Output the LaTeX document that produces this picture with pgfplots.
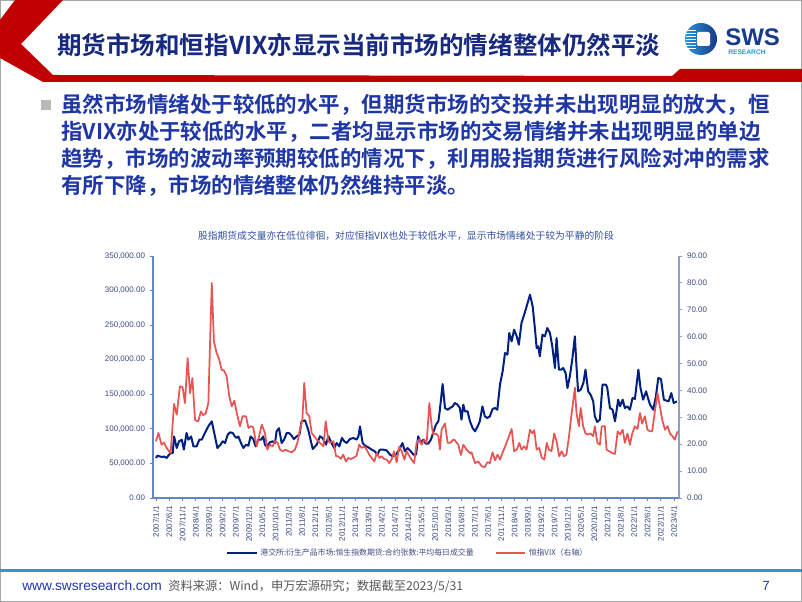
\documentclass[border=0pt]{standalone}
\usepackage{pgfplots}
\pgfplotsset{compat=1.18}
\usepackage{fontspec}
\setmainfont{Liberation Sans}
\newfontfamily\cjk{Noto Sans CJK SC}[BoldFont={Noto Sans CJK SC Bold}]
\definecolor{titleblue}{RGB}{24,42,128}
\definecolor{textblue}{RGB}{30,55,165}
\definecolor{lineblue}{RGB}{0,32,128}
\definecolor{linered}{RGB}{232,84,84}
\definecolor{axisblue}{RGB}{100,130,205}
\definecolor{axisgrey}{RGB}{140,160,195}
\definecolor{ticklab}{RGB}{60,75,130}
\definecolor{redbar}{RGB}{192,0,0}
\definecolor{footc}{RGB}{50,150,205}
\definecolor{charttitle}{RGB}{50,80,160}
\definecolor{logodark}{RGB}{22,58,140}
\definecolor{logolight}{RGB}{40,150,220}
\begin{document}
\begin{tikzpicture}[x=0.75pt,y=0.75pt]
\fill[white] (0,0) rectangle (802,602);
\draw[gray!70, line width=0.75pt] (0.5,0.5) rectangle (801.5,601.5);
% header banner
\fill[redbar] (15,602) -- (63,602) -- (21,558) -- (53,527) -- (672,526) -- (680,533) -- (802,533) -- (802,520) -- (43,520) -- (0,544) -- (0,582) -- cycle;
\node[anchor=west, inner sep=0, text=titleblue, font=\cjk\bfseries\fontsize{18.4}{18.4}\selectfont] at (57,557) {期货市场和恒指VIX亦显示当前市场的情绪整体仍然平淡};
% logo
\shade[left color=logolight, right color=logodark] (701,563) circle (16);
\fill[white, rounded corners=1.5] (697,556) rectangle (710,570);
\foreach \yy in {554,557,560,563,566,569,572} {\draw[white, line width=0.6pt] (686,\yy) -- (696,\yy);}
\node[anchor=base west, inner sep=0, text=logodark, font=\bfseries\fontsize{18}{18}\selectfont] at (725,556) {SWS};
\node[anchor=base west, inner sep=0, text=logolight, font=\bfseries\fontsize{5}{5}\selectfont] at (728,547) {RESEARCH};
% bullet
\fill[gray!55] (41,492) rectangle (51,502);
\begin{scope}[every node/.style={anchor=west, inner sep=0, text=textblue, font=\cjk\bfseries\fontsize{16.1}{16.1}\selectfont}]
\node at (61,497) {虽然市场情绪处于较低的水平，但期货市场的交投并未出现明显的放大，恒};
\node at (61,470) {指VIX亦处于较低的水平，二者均显示市场的交易情绪并未出现明显的单边};
\node at (61,443) {趋势，市场的波动率预期较低的情况下，利用股指期货进行风险对冲的需求};
\node at (61,416) {有所下降，市场的情绪整体仍然维持平淡。};
\end{scope}
% chart title
\node[inner sep=0, text=charttitle, font=\cjk\fontsize{7.35}{7.35}\selectfont] at (406,366) {股指期货成交量亦在低位徘徊，对应恒指VIX也处于较低水平，显示市场情绪处于较为平静的阶段};
% axes
\begin{axis}[
  at={(114.75pt,78pt)}, anchor=south west,
  scale only axis, width=394.5pt, height=181.5pt,
  xmin=-1.13, xmax=196.9, ymin=0, ymax=350000,
  axis y line*=left, axis x line*=bottom,
  axis line style={color=axisblue, line width=0.8pt},
  every tick/.style={color=axisblue, line width=0.6pt},
  tick align=outside, major tick length=2.5pt,
  ytick={0,50000,100000,150000,200000,250000,300000,350000},
  scaled y ticks=false,
  yticklabel style={/pgf/number format/fixed, /pgf/number format/fixed zerofill, /pgf/number format/precision=2, /pgf/number format/1000 sep={,}, /pgf/number format/assume math mode=true, font=\fontsize{6}{6}\selectfont, color=ticklab},
  xtick={0,5,...,195},
  xticklabels={2007/1/1,2007/6/1,2007/11/1,2008/4/1,2008/9/1,2009/2/1,2009/7/1,2009/12/1,2010/5/1,2010/10/1,2011/3/1,2011/8/1,2012/1/1,2012/6/1,2012/11/1,2013/4/1,2013/9/1,2014/2/1,2014/7/1,2014/12/1,2015/5/1,2015/10/1,2016/3/1,2016/8/1,2017/1/1,2017/6/1,2017/11/1,2018/4/1,2018/9/1,2019/2/1,2019/7/1,2019/12/1,2020/5/1,2020/10/1,2021/3/1,2021/8/1,2022/1/1,2022/6/1,2022/11/1,2023/4/1},
  x tick label style={rotate=90, anchor=east, font=\fontsize{6}{6}\selectfont, color=ticklab},
]
\addplot[lineblue, line width=1.5pt, line join=round] coordinates {
(0,57800)(0.5,61200)(1.5,60000)(2.4,59300)(3.1,60000)(4,57800)(4.9,62600)(5.5,65000)(6.3,65000)(6.8,89000)(7.8,72300)(8.7,82000)(9.7,84300)(10.5,70000)(11.5,94000)(12.2,84300)(13.2,89000)(14.1,74700)(15.3,74700)(16.3,84300)(17.2,84300)(18.4,94000)(19.7,103600)(21,110900)(22.2,89000)(23.1,72300)(24.3,77100)(25.1,82000)(26,79500)(27,91600)(27.9,95000)(28.9,94000)(29.7,89000)(30.4,86800)(31,89000)(32,79500)(32.9,72300)(33.9,77100)(34.8,75700)(35.6,89000)(36.6,85300)(37.5,74700)(38.5,84300)(39.5,84300)(40.4,89000)(41,77100)(41.7,74700)(42.9,80500)(43.9,82000)(44.8,79500)(45.4,96400)(46.3,101000)(47.3,79500)(48.2,84300)(49.2,94000)(50.1,94000)(51.1,90000)(51.9,85300)(52.9,89000)(54,91600)(54.8,110900)(56.1,112300)(57.3,98800)(59,70900)(60.5,77100)(61.7,89200)(62.7,86800)(64,77100)(64.9,89200)(66.1,79500)(67.1,72300)(68,79500)(69,74700)(70,86800)(70.9,81900)(71.8,79500)(73,85300)(74.3,86800)(75.5,84400)(76.2,89200)(76.8,103600)(77.8,79500)(78.7,75700)(79.9,73300)(81.2,69900)(82.4,67500)(83.3,62700)(84.3,69900)(85.6,69900)(86.8,68900)(88.1,62700)(89.1,60300)(90.3,62700)(91.6,69900)(92.8,79500)(93.7,67500)(94.7,72300)(95.9,67500)(96.9,62700)(97.9,62700)(98.7,89200)(99.7,79500)(100.6,84400)(101.6,78600)(102.5,78600)(103.5,84400)(104.4,95000)(105.4,106000)(106.3,111000)(106.8,125000)(107.9,164800)(108.8,130100)(109.8,127700)(110.7,130100)(111.7,132500)(112.5,137400)(113.5,135000)(114.4,130100)(115,113300)(115.7,135000)(116.3,125300)(117.3,125300)(118.2,110900)(119.2,101200)(120.1,96400)(121.1,103600)(121.9,110900)(122.9,132500)(123.8,118100)(124.7,115700)(125.7,118100)(126.7,128700)(127.6,130100)(128.5,127700)(129.5,163900)(130.5,183200)(131.4,209700)(132.3,207300)(133,238600)(133.9,226500)(134.8,243400)(135.8,233800)(136.6,221700)(137.6,253100)(138.8,267500)(139.9,282000)(140.8,294000)(141.8,277200)(142.7,243400)(143.3,216900)(143.9,219300)(144.5,204900)(145.5,236200)(146.4,233800)(147.3,245800)(148.3,238600)(149.2,219300)(150.2,188000)(150.8,231400)(151.7,185600)(152.5,185600)(153.3,188000)(154.2,180800)(154.9,159100)(155.8,175900)(156.7,200000)(157.7,233800)(158.3,190400)(158.9,154200)(159.9,156700)(160.9,166300)(161.7,185600)(162.7,154200)(163.6,149400)(164.6,139800)(165.2,118100)(166.1,110000)(167.1,113300)(168.1,163900)(169.4,163900)(169.9,159100)(170.9,130100)(171.9,127700)(172.8,110900)(174,142200)(174.7,132600)(175.7,142200)(176.5,130100)(177.4,132600)(178.4,127700)(179.4,144600)(180.3,143200)(181.6,185600)(182.4,159100)(183.4,142200)(184.5,154200)(185.4,142200)(186,135000)(187.2,127700)(188.2,147000)(189.1,173500)(190.1,172100)(191.2,142200)(192.2,140700)(193,139800)(194,151800)(194.9,137400)(196.1,139800)
};
\end{axis}
\begin{axis}[
  at={(114.75pt,78pt)}, anchor=south west,
  scale only axis, width=394.5pt, height=181.5pt,
  xmin=-1.13, xmax=196.9, ymin=0, ymax=90,
  axis y line*=right, axis x line=none,
  axis line style={color=axisgrey, line width=0.8pt},
  every tick/.style={color=axisgrey, line width=0.6pt},
  tick align=outside, major tick length=2.5pt,
  ytick={0,10,...,90},
  yticklabel style={/pgf/number format/fixed, /pgf/number format/fixed zerofill, /pgf/number format/precision=2, /pgf/number format/assume math mode=true, font=\fontsize{6}{6}\selectfont, color=ticklab},
  legend style={at={(axis description cs:0.485,-0.227)}, anchor=center, draw=none, fill=none,
    font=\cjk\fontsize{5.9}{6}\selectfont, text=ticklab, legend columns=2,
    /tikz/every even column/.append style={column sep=14pt}},
  legend image code/.code={\draw[#1] (0pt,0pt) -- (22pt,0pt);},
]
\addlegendimage{lineblue, line width=1.6pt}
\addlegendentry{港交所:衍生产品市场:恒生指数期货:合约张数:平均每日成交量}
\addplot[linered, line width=1.3pt, line join=round] coordinates {
(0,21.1)(0.9,24.2)(2.1,19.8)(3,20.6)(3.9,18.8)(4.8,17.5)(5.5,16.7)(6.8,35)(7.8,31)(9,41.5)(10,41.3)(10.9,35.3)(11.9,52)(12.8,39)(13.7,44.6)(14.7,29)(15.9,28.5)(16.9,32.2)(17.8,30.8)(18.7,31.4)(19.7,35.3)(21,80)(21.8,58.3)(22.8,54)(23.8,51.5)(24.7,47.7)(25.6,47.4)(26.6,45.3)(27.6,37.8)(28.5,34.1)(29.5,36.2)(30.4,31.6)(31.6,26.7)(32.6,30.4)(33.9,30.4)(34.8,26)(35.6,26.7)(36.6,26.3)(37.9,19.2)(38.8,22.9)(39.8,27.3)(41,24.2)(41.9,18)(42.9,19.8)(43.9,19.2)(44.8,21.1)(45.8,20.5)(46.7,18)(47.7,17.4)(48.8,18)(49.8,17.4)(51.1,17)(52.3,18)(53.2,20.5)(54.2,25.4)(55.1,29.1)(55.8,42.8)(56.7,31.6)(57.7,30.4)(58.6,24.2)(59.6,22.9)(60.5,21.7)(61.7,20.5)(63,19.2)(63.9,28.5)(64.9,21.1)(65.7,20.5)(66.8,21.1)(67.8,15.5)(68.6,15.5)(69.6,14.6)(70.5,16.1)(71.5,13.6)(72.4,14.9)(73.4,14.5)(74.3,14.9)(75.5,15.7)(76.5,19.8)(77.4,18.6)(78.4,19.2)(79.3,18)(80.3,16.1)(81.2,14.9)(82.2,13.6)(83.1,16.7)(84.1,14.9)(84.9,15.5)(85.9,14.5)(86.8,14.3)(87.8,13)(88.7,14.3)(89.6,17.4)(90.6,13.3)(91.6,19.2)(92.5,17.4)(93.5,14.3)(94.4,17.4)(95.4,15.5)(96.2,14.3)(97.2,13)(98.1,20.5)(99.1,21.7)(100,19.8)(101,21.7)(101.9,20.5)(102.9,35.3)(103.8,26.7)(104.4,23.6)(105.4,24)(106.3,22.9)(106.9,18)(107.5,25.4)(108.8,27.7)(109.8,20.5)(110.7,20.5)(111.9,21.7)(112.5,21.5)(113.8,19.8)(114.8,16)(115.7,19.8)(116.9,18)(118.2,16.7)(118.8,17)(120.1,13)(121.3,13.6)(122.6,11.8)(123.8,11.5)(124.7,13.3)(125.7,13)(126.7,17)(127.6,14)(128.6,16.1)(129.5,14.3)(130.7,17.4)(131.7,19.8)(132.9,23)(133.9,25.7)(134.8,17.4)(135.8,18)(136.8,20.5)(137.6,18)(138.6,19.2)(139.5,18)(140.8,25.4)(141.7,24)(142.4,25.2)(143.3,18)(144.3,18.6)(145.2,15)(146.2,14.3)(147.1,20.5)(147.9,18)(148.9,17.4)(149.9,24)(150.8,21.1)(151.8,15.5)(152.7,17.4)(153.6,15.5)(154.5,16.1)(155.5,23)(156.5,31.6)(157.7,41)(158.3,31.6)(159.2,26.7)(159.9,33.5)(160.8,26.7)(161.7,24)(162.7,23.6)(163.6,24)(164.6,23)(165.2,26.7)(166.2,20.5)(167.1,19.8)(167.8,26.7)(169,26.7)(169.6,18)(170.6,17.4)(171.8,16.7)(172.8,16.4)(173.8,24.8)(174.7,23.6)(175.7,25.4)(176.5,20.5)(177.5,24)(178.4,19.8)(179.3,24)(180.3,26.7)(181.3,25.7)(182.2,31.6)(183,27.7)(184.1,30.4)(185,25.4)(186,24.8)(186.8,24.8)(187.8,32.2)(188.8,39)(189.7,34)(190.6,29)(191.6,25.4)(192.6,26.7)(193.5,24)(194.5,22.9)(195.3,21.7)(196.4,24.8)
};
\addlegendentry{恒指VIX（右轴）}
\end{axis}
% footer
\fill[footc] (0,30) rectangle (802,33);
\node[anchor=west, inner sep=0, text=textblue, font=\fontsize{10.3}{10.3}\selectfont] at (22,16) {www.swsresearch.com};
\node[anchor=west, inner sep=0, text=black!65, font=\cjk\fontsize{9.2}{9.2}\selectfont] at (168,16) {资料来源：Wind，申万宏源研究；数据截至2023/5/31};
\node[anchor=center, inner sep=0, text=textblue, font=\fontsize{10}{10}\selectfont] at (766,16) {7};
\end{tikzpicture}
\end{document}
